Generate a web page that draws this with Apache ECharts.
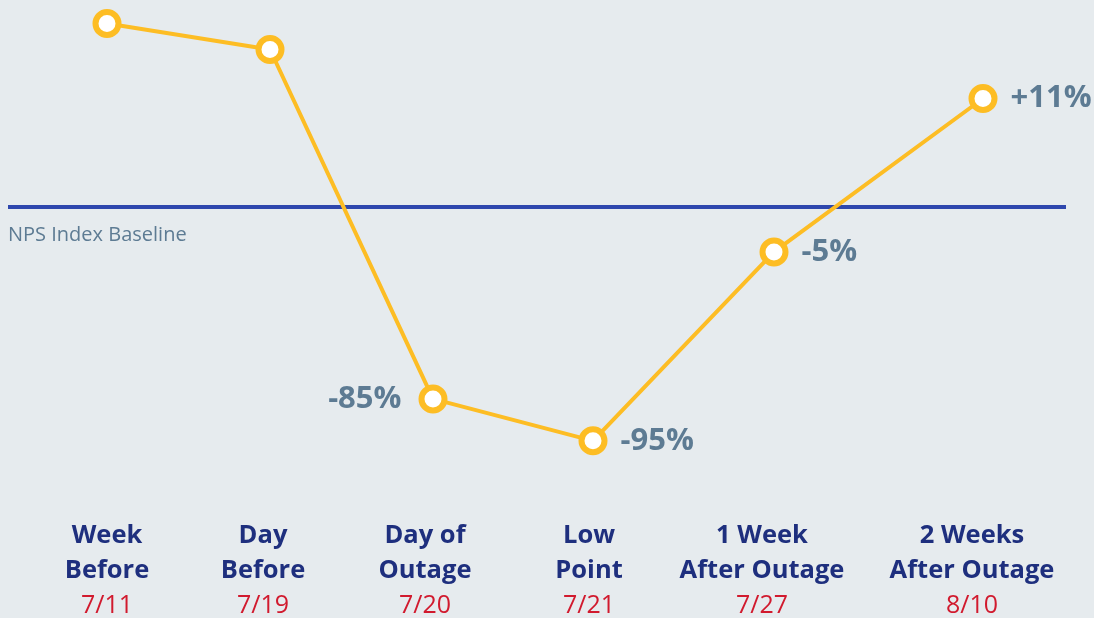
<!DOCTYPE html>
<html>
<head>
<meta charset="utf-8">
<script src="https://cdn.jsdelivr.net/npm/echarts@6/dist/echarts.min.js"></script>
<style>
  html, body { margin: 0; padding: 0; background: #e6ebee; }
  #chart { width: 1094px; height: 618px; }
</style>
</head>
<body>
<div id="chart"></div>
<script>
// stages along the timeline
const stageTitles = ['Week\nBefore', 'Day\nBefore', 'Day of\nOutage', 'Low\nPoint', '1 Week\nAfter Outage', '2 Weeks\nAfter Outage']
const stageDates = ['7/11', '7/19', '7/20', '7/21', '7/27', '8/10']
// where each stage sits on the (unlabelled) time axis, and where its caption sits
const stagePos = [107, 270, 433, 593, 774, 983]
const captionPos = [107, 263, 425, 589, 762, 972]
// NPS index relative to baseline, as plotted (chart is not to scale)
const npsIndex = [74.8, 64.2, -78.4, -95.5, -18.4, 44.2]
const npsLabels = ['', '', '-85%', '-95%', '-5%', '+11%']
const baselineRange = [8, 1066]

const YELLOW = '#fdbd24'
const GREY = '#5d7b93'

const chart = echarts.init(document.getElementById('chart'), null, { renderer: 'canvas' })

const captionOf = {}
captionPos.forEach((p, i) => {
  const [l1, l2] = stageTitles[i].split('\n')
  captionOf[p] = `{t|${l1}}\n{t|${l2}}\n{d|${stageDates[i]}}`
})

const points = npsIndex.map((v, i) => {
  const item = { value: [stagePos[i], v] }
  if (npsLabels[i]) {
    const left = npsLabels[i] === '-85%'
    item.label = {
      show: true,
      formatter: npsLabels[i],
      position: left ? 'left' : 'right',
      distance: left ? 17 : 13,
    }
  }
  return item
})

chart.setOption({
  backgroundColor: '#e6ebee',
  animation: false,
  grid: { left: 0, right: 0, top: 0, bottom: 100 },
  xAxis: [
    {
      type: 'value',
      min: 0,
      max: 1094,
      axisLine: { show: false },
      axisTick: { show: false },
      splitLine: { show: false },
      axisLabel: {
        show: true,
        customValues: captionPos,
        margin: 0,
        formatter: v => captionOf[v] || '',
        rich: {
          t: { fontFamily: 'Open Sans', fontWeight: 'bold', fontSize: 25.5, color: '#1e2f7e', lineHeight: 35, align: 'center' },
          d: { fontFamily: 'Open Sans', fontSize: 25, color: '#d11a2e', lineHeight: 35, align: 'center' },
        },
      },
    },
  ],
  yAxis: {
    type: 'value',
    min: -127,
    max: 84.4,
    show: false,
    splitLine: { show: false },
  },
  series: [
    {
      type: 'line',
      data: points,
      z: 3,
      symbol: 'circle',
      symbolSize: 23,
      lineStyle: { color: YELLOW, width: 4 },
      itemStyle: { color: '#ffffff', borderColor: YELLOW, borderWidth: 6 },
      label: {
        fontFamily: 'Open Sans',
        fontWeight: 'bold',
        fontSize: 31,
        color: GREY,
      },
      markLine: {
        silent: true,
        symbol: 'none',
        z: 1,
        lineStyle: { color: '#2e47ad', width: 4, type: 'solid' },
        label: {
          show: true,
          position: 'insideStartBottom',
          formatter: 'NPS Index Baseline',
          fontFamily: 'Open Sans',
          fontSize: 20,
          color: GREY,
          distance: [0, 18],
        },
        data: [[{ coord: [baselineRange[0], 0] }, { coord: [baselineRange[1], 0] }]],
      },
    },
  ],
})
</script>
</body>
</html>
